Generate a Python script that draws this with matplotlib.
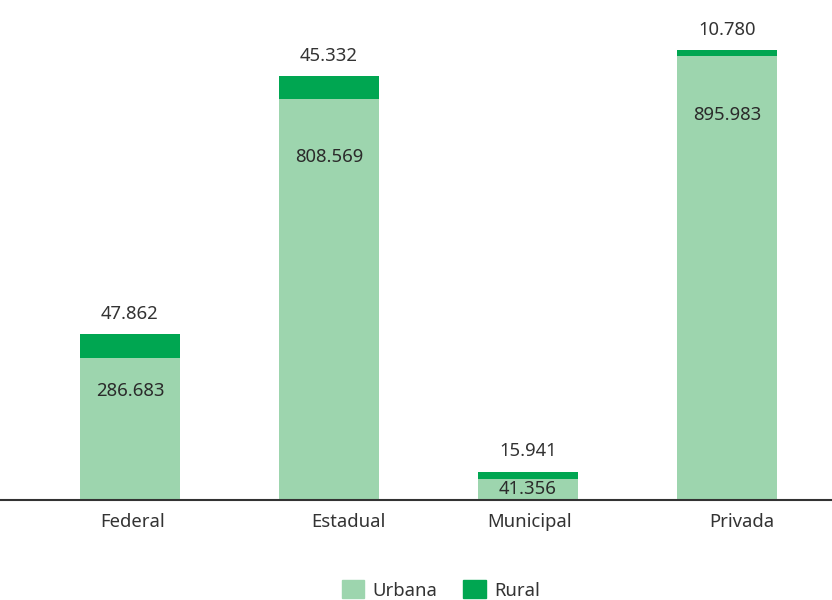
import matplotlib.pyplot as plt
from matplotlib.patches import Patch

categories = ["Federal", "Estadual", "Municipal", "Privada"]
urbana = [286683, 808569, 41356, 895983]
rural = [47862, 45332, 15941, 10780]
urbana_labels = ["286.683", "808.569", "41.356", "895.983"]
rural_labels = ["47.862", "45.332", "15.941", "10.780"]

c_urb = "#9dd5ae"
c_rur = "#00a651"

plt.rcParams['font.family'] = ['Noto Sans', 'DejaVu Sans']

fig = plt.figure(figsize=(8.32, 6.0), dpi=100)
ax = fig.add_axes([0, 100 / 600, 1, 500 / 600])

x = range(len(categories))
ax.bar(x, urbana, width=0.5, color=c_urb)
ax.bar(x, rural, width=0.5, bottom=urbana, color=c_rur)

# label placement (points)
urb_off = [-24, -42, -7, -43]
cat_off = [2, 14, 1, 11]
for i in x:
    top = urbana[i] + rural[i]
    ax.annotate(rural_labels[i], (i, top), xytext=(0, 14.5), textcoords="offset points",
                ha="center", va="center", fontsize=13.3, color="#333333")
    ax.annotate(urbana_labels[i], (i, urbana[i]), xytext=(0, urb_off[i]), textcoords="offset points",
                ha="center", va="center", fontsize=13.3, color="#2b2b2b")
    ax.annotate(categories[i], (i, 0), xytext=(cat_off[i], -16), textcoords="offset points",
                ha="center", va="center", fontsize=13.3, color="#333333", annotation_clip=False)

ax.set_xlim(-0.653, 3.528)
ax.set_ylim(0, 1008000)
ax.axhline(0, color="#333333", lw=1.5, clip_on=False)
ax.set_xticks([])
ax.set_yticks([])
for s in ax.spines.values():
    s.set_visible(False)

handles = [Patch(color=c_urb, label="Urbana"), Patch(color=c_rur, label="Rural")]
fig.legend(handles=handles, loc="center", bbox_to_anchor=(0.53, 10 / 600), ncol=2, frameon=False,
           fontsize=13.3, handlelength=1.2, handleheight=1.1, columnspacing=1.4, handletextpad=0.45,
           labelcolor="#333333")

fig.savefig("out.png", dpi=100)
